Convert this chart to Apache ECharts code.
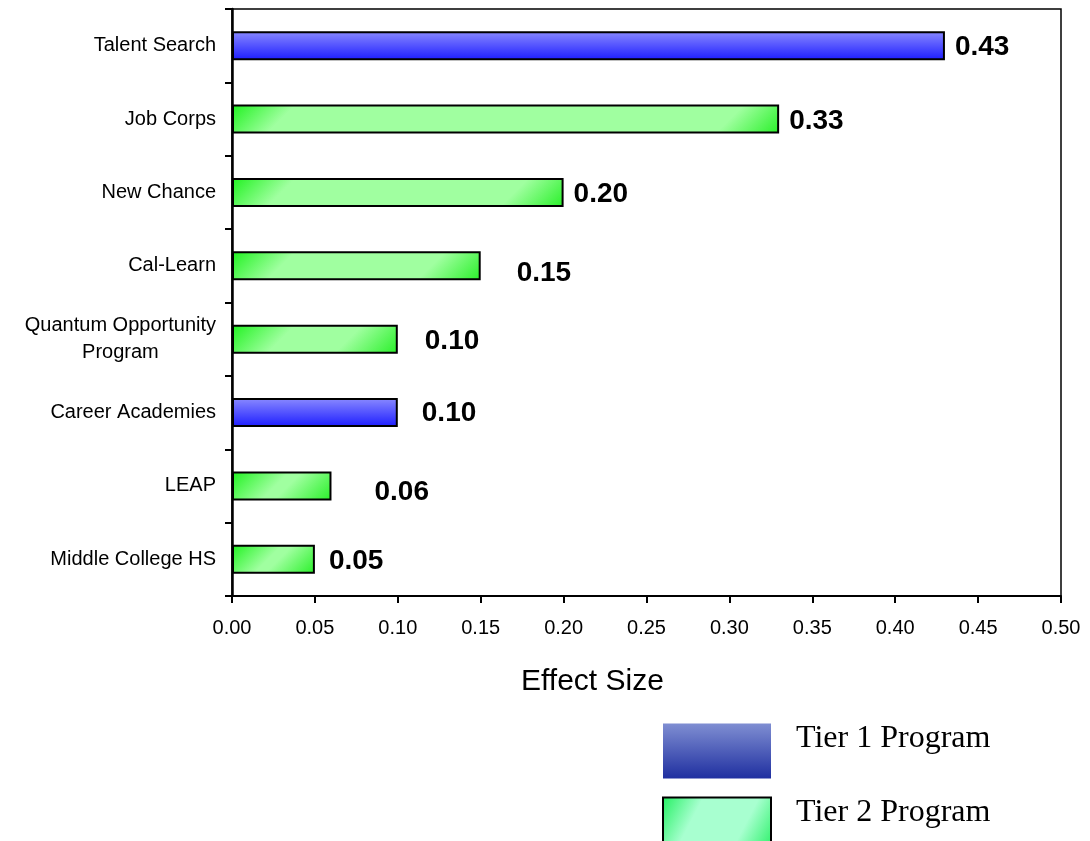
<!DOCTYPE html>
<html>
<head>
<meta charset="utf-8">
<script src="https://cdn.jsdelivr.net/npm/echarts@6/dist/echarts.min.js"></script>
<style>html,body{margin:0;padding:0;background:#fff}#c{width:1090px;height:841px}</style>
</head>
<body>
<div id="c"></div>
<script>
const categories = ['Talent Search','Job Corps','New Chance','Cal-Learn','Quantum Opportunity Program','Career Academies','LEAP','Middle College HS'];
const values = [0.43, 0.33, 0.20, 0.15, 0.10, 0.10, 0.06, 0.05];
const tiers = [1, 2, 2, 2, 2, 1, 2, 2];
const xTicks = { min: 0, max: 0.5, interval: 0.05 };
const seriesNames = ['Tier 1 Program', 'Tier 2 Program'];
const axisTitle = 'Effect Size';

// label nudges (style only)
const labelNudge = [[0,2],[0,2],[0,2],[26,7],[17,2],[14,1],[33,6],[4,2]];
const BAR_H = 29;

const blueGrad = new echarts.graphic.LinearGradient(0,0,0,1,[{offset:0,color:'#8a8aff'},{offset:1,color:'#1c1cff'}]);
const legBlue = new echarts.graphic.LinearGradient(0,0,0,1,[{offset:0,color:'#7f8ed2'},{offset:1,color:'#1f2fa0'}]);
const legGreen = new echarts.graphic.LinearGradient(0,0,1,1,[{offset:0,color:'#22f060'},{offset:0.3,color:'#a8ffd0'},{offset:0.7,color:'#a8ffd0'},{offset:1,color:'#22f060'}]);

function greenFor(w){
  // 45-degree diagonal gradient, green in corners, light in middle
  const h = BAR_H;
  const T = (w + h) / Math.SQRT2;
  const s = Math.min(0.45, 45 / T);
  return new echarts.graphic.LinearGradient(0, 0, (w + h) / (2 * w), (w + h) / (2 * h), [
    {offset:0, color:'#1ff21f'},
    {offset:s, color:'#a0ffa0'},
    {offset:1-s, color:'#a0ffa0'},
    {offset:1, color:'#28f028'}
  ]);
}

function mkData(tier, widths){
  return values.map((v,i)=> tiers[i]===tier ? {
    value: v,
    label: { offset: labelNudge[i] },
    itemStyle: (tier === 2 && widths) ? { color: greenFor(widths[i]) } : undefined
  } : '-');
}

const labelCfg = { show: true, position: 'right', distance: 10, formatter: p => p.value.toFixed(2), fontFamily: 'Liberation Sans, Arial', fontWeight: 'bold', fontSize: 28, color: '#000' };

const chart = echarts.init(document.getElementById('c'), null, {renderer:'canvas'});
function build(widths){
  return {
    animation: false,
    title: {
      text: axisTitle, left: 516, top: 662,
      textStyle: { fontFamily: 'Liberation Sans, Arial', fontSize: 30, fontWeight: 'normal', color: '#000' }
    },
    grid: { left: 232, right: 29, top: 9, bottom: 245, show: true, borderColor: '#000', borderWidth: 1.5, backgroundColor: 'transparent' },
    xAxis: {
      type: 'value', min: xTicks.min, max: xTicks.max, interval: xTicks.interval,
      axisLine: { show: true, lineStyle: { color: '#000', width: 2 } },
      axisTick: { show: true, length: 7, lineStyle: { color: '#000', width: 2 } },
      axisLabel: { color: '#000', fontFamily: 'Liberation Sans, Arial', fontSize: 20, margin: 22, formatter: v => v.toFixed(2) },
      splitLine: { show: false }
    },
    yAxis: {
      type: 'category', data: categories, inverse: true,
      axisLine: { show: true, lineStyle: { color: '#000', width: 2.5 } },
      axisTick: { show: true, length: 7, lineStyle: { color: '#000', width: 2 } },
      axisLabel: {
        color: '#000', fontFamily: 'Liberation Sans, Arial', fontSize: 20, margin: 16,
        formatter: v => v === 'Quantum Opportunity Program' ? '{c|Quantum Opportunity}\n{c|Program}' : v,
        rich: { c: { align: 'center', fontFamily: 'Liberation Sans, Arial', fontSize: 20, color: '#000', lineHeight: 27 } }
      }
    },
    legend: {
      orient: 'vertical', left: 662, top: 723, height: 300, padding: 0,
      itemWidth: 108, itemHeight: 55, itemGap: 18,
      icon: 'rect',
      formatter: n => '{t|' + n + '}',
      textStyle: {
        fontFamily: 'Liberation Serif, Times New Roman', fontSize: 32, color: '#000',
        rich: { t: { fontFamily: 'Liberation Serif, Times New Roman', fontSize: 32, color: '#000', padding: [0, 0, 24, 20] } }
      },
      data: [
        { name: seriesNames[0], itemStyle: { color: legBlue, borderWidth: 0 } },
        { name: seriesNames[1], itemStyle: { color: legGreen, borderColor: '#000', borderWidth: 2 } }
      ]
    },
    series: [
      {
        name: seriesNames[0], type: 'bar', barWidth: BAR_H, barGap: '-100%',
        itemStyle: { color: blueGrad, borderColor: '#000', borderWidth: 2 },
        label: labelCfg,
        data: mkData(1, widths)
      },
      {
        name: seriesNames[1], type: 'bar', barWidth: BAR_H, barGap: '-100%',
        itemStyle: { color: '#7fff7f', borderColor: '#000', borderWidth: 2 },
        label: labelCfg,
        data: mkData(2, widths)
      }
    ]
  };
}
chart.setOption(build(null));
const x0 = chart.convertToPixel({xAxisIndex:0}, 0);
const widths = values.map(v => chart.convertToPixel({xAxisIndex:0}, v) - x0);
chart.setOption(build(widths), true);
</script>
</body>
</html>
